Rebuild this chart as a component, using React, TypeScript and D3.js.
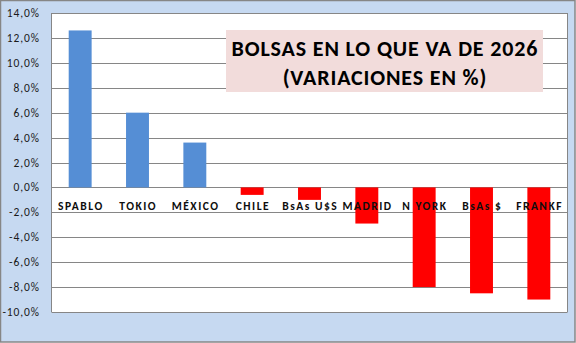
import React from "react";
import * as d3 from "d3";

const categories = ["SPABLO", "TOKIO", "MÉXICO", "CHILE", "BsAs U$S", "MADRID", "N YORK", "BsAs $", "FRANKF"];
const values = [12.6, 6.0, 3.6, -0.6, -1.0, -2.9, -8.0, -8.5, -9.0];
const yTicks = [14, 12, 10, 8, 6, 4, 2, 0, -2, -4, -6, -8, -10];
const titleLines = ["BOLSAS EN LO QUE VA DE 2026", "(VARIACIONES EN %)"];

export default function App() {
  const W = 576, H = 343;
  const left = 51.5, right = 567.5, top = 13, bottom = 312;
  const x = d3.scaleBand<string>().domain(categories).range([left, right]).paddingInner(0.6).paddingOuter(0.3);
  const y = d3.scaleLinear().domain([-10, 14]).range([bottom, top]);
  const fmt = (v: number) => v.toFixed(1).replace(".", ",") + "%";
  const font = "Calibri, Carlito, 'Open Sans', 'Liberation Sans', sans-serif";
  return (
    <svg width={W} height={H} style={{ position: "absolute", left: 0, top: 0 }}>
      <rect x={0.5} y={0.5} width={W - 1.5} height={H - 1.5} fill="#C6D9F1" stroke="#868686" strokeWidth={1.5} />
      <rect x={left} y={top} width={right - left} height={bottom - top} fill="#FFFFFF" />
      {yTicks.map((t) => (
        <line key={t} x1={left} x2={right} y1={Math.round(y(t)) + 0.5} y2={Math.round(y(t)) + 0.5} stroke="#868686" strokeWidth={1} />
      ))}
      <line x1={left} x2={left} y1={top} y2={bottom} stroke="#868686" />
      <line x1={right} x2={right} y1={top} y2={bottom} stroke="#868686" />
      {yTicks.map((t) => (
        <text key={"l" + t} x={39.9} y={y(t)} dy="0.35em" textAnchor="end" fontFamily={font} fontSize={11.5} letterSpacing={0.9} fill="#1a1a1a">
          {fmt(t)}
        </text>
      ))}
      {categories.map((c, i) => {
        const v = values[i];
        const y0 = y(0), y1 = y(v);
        return (
          <rect key={c} x={x(c)} width={x.bandwidth()} y={Math.min(y0, y1)} height={Math.abs(y1 - y0)} fill={v >= 0 ? "#558ED5" : "#FF0000"} />
        );
      })}
      {categories.map((c) => (
        <text key={"c" + c} x={(x(c) as number) + x.bandwidth() / 2 + 0.75} y={205.5} dy="0.35em" textAnchor="middle" fontFamily={font} fontWeight="bold" fontSize={11.5} letterSpacing={1.5} fill="#0d0d0d">
          {c}
        </text>
      ))}
      <rect x={226} y={30} width={317} height={62} fill="#F2DCDB" />
      {titleLines.map((t, i) => (
        <text key={t} x={384.9} y={48 + i * 29} dy="0.35em" textAnchor="middle" fontFamily={font} fontWeight="bold" fontSize={22} letterSpacing={0.85} fill="#000">
          {t}
        </text>
      ))}
    </svg>
  );
}
